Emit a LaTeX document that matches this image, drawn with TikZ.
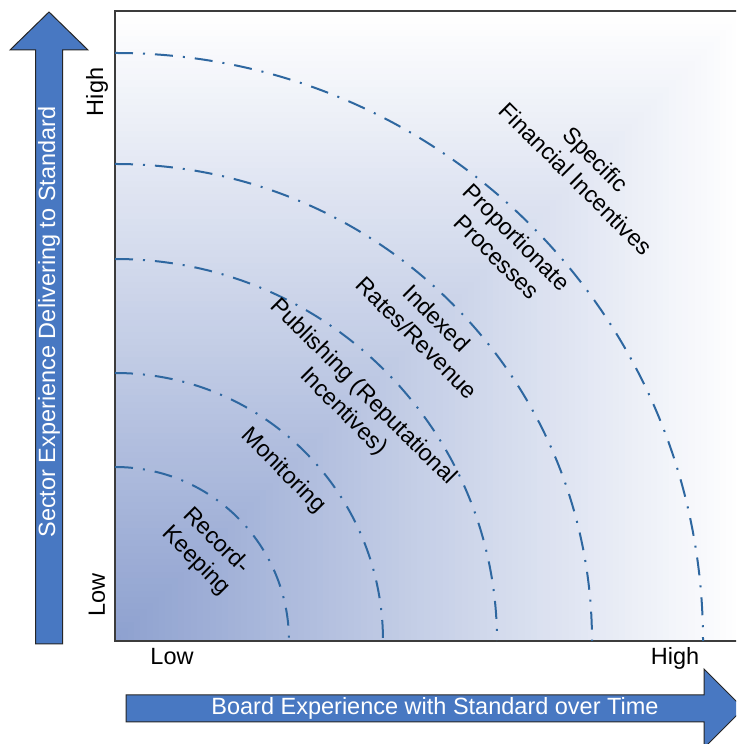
\documentclass[tikz,border=0pt]{standalone}
\usepackage{fontspec}
\setmainfont{Liberation Sans}
\definecolor{bgdark}{RGB}{141,160,207}
\definecolor{arcblue}{RGB}{46,103,160}
\definecolor{arrowblue}{RGB}{72,120,194}
\definecolor{framegray}{RGB}{60,60,60}
\begin{document}
\begin{tikzpicture}[x=1pt,y=1pt,
  ring/.style={draw=arcblue,line width=2pt,dash pattern=on 18pt off 10pt on 2pt off 10pt},
  zone/.style={rotate=-45,align=center,font=\fontsize{23.3}{28}\selectfont,inner sep=0pt},
  axislab/.style={font=\fontsize{23.5}{27}\selectfont,inner sep=0pt},
  bigarrow/.style={fill=arrowblue,draw=black!85,line width=1pt},
  arrowtext/.style={text=white,font=\fontsize{23.5}{27}\selectfont,inner sep=0pt}]
\useasboundingbox (0,0) rectangle (736,744);
\clip (0,0) rectangle (736,744);
\fill[white] (0,0) rectangle (736,744);
% gradient background (rectangular from bottom-left)
\foreach \i in {100,99,...,1}{
  \pgfmathtruncatemacro{\p}{100-\i}
  \pgfmathsetmacro{\s}{6.3*\i}
  \fill[bgdark!\p!white] (115,103) rectangle ++(\s,\s);
}
% frame
\draw[framegray,line width=1.2pt] (745,733) -- (115,733) -- (115,103) -- (745,103);
% arcs
\foreach \r in {174,268,382,477,588}{
  \draw[ring] (115,103+\r) arc[start angle=90,end angle=0,radius=\r];
}
% zone labels
\node[zone] (fin) at (586,575) {Specific\\Financial Incentives};
\node[zone] (prop) at (507,497) {Proportionate\\Processes};
\node[zone] (idx) at (427,416) {Indexed\\Rates/Revenue};
\node[zone] (pub) at (353,342) {Publishing (Reputational\\Incentives)};
\node[zone] (mon) at (283,273) {Monitoring};
\node[zone] (rec) at (206,193) {Record-\\Keeping};
% axis labels
\node[axislab,rotate=90] (yhigh) at (97,652) {High};
\node[axislab,rotate=90] (ylow) at (97,149) {Low};
\node[axislab,anchor=base] (xlow) at (172,79) {Low};
\node[axislab,anchor=base] (xhigh) at (675,79) {High};
% vertical arrow
\draw[bigarrow] (35.5,100) -- (62.5,100) -- (62.5,694) -- (88,694) -- (49,732) -- (10,694) -- (35.5,694) -- cycle;
\node[arrowtext,rotate=90] (ytitle) at (49,422) {Sector Experience Delivering to Standard};
% horizontal arrow
\draw[bigarrow] (126,49) -- (704,49) -- (704,75) -- (743.5,35.5) -- (704,-4) -- (704,22) -- (126,22) -- cycle;
\node[arrowtext] (xtitle) at (435,36) {Board Experience with Standard over Time};
\end{tikzpicture}
\end{document}
